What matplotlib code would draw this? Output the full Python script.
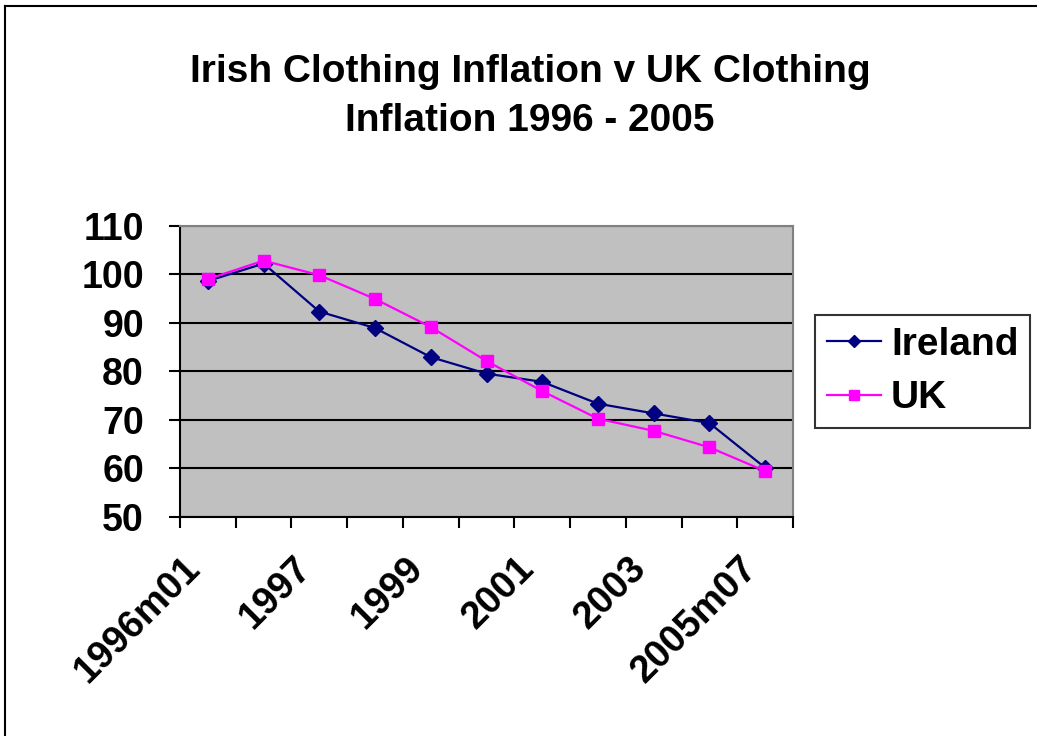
import matplotlib.pyplot as plt
from matplotlib.lines import Line2D

# categories (every other one labelled in the original Excel chart)
periods = ["1996m01", "1996m07", "1997", "1998", "1999", "2000",
           "2001", "2002", "2003", "2004", "2005m07"]
ireland = [98.6, 102.2, 92.3, 88.9, 82.9, 79.5, 77.8, 73.3, 71.3, 69.3, 60.1]
uk = [99.0, 102.8, 99.8, 94.9, 89.1, 82.1, 75.9, 70.2, 67.7, 64.3, 59.4]
shown_labels = ["1996m01", "1997", "1999", "2001", "2003", "2005m07"]

plt.rcParams["font.family"] = ["Liberation Sans", "DejaVu Sans"]
plt.rcParams["font.weight"] = "bold"

fig = plt.figure(figsize=(10.37, 7.36), dpi=100)
ax = fig.add_axes([0.1736, 0.298, 0.5911, 0.3953])
ax.set_facecolor("#C0C0C0")

x = list(range(len(periods)))
ax.plot(x, ireland, color="#000080", lw=1.6, marker="D", ms=8,
        label="Ireland", zorder=3)
ax.plot(x, uk, color="#FF00FF", lw=1.6, marker="s", ms=8.5,
        label="UK", zorder=4)

ax.set_xlim(-0.5, len(periods) - 0.5)
ax.set_ylim(50, 110)
ax.set_yticks(range(50, 111, 10))
ax.yaxis.grid(True, color="black", lw=1.5)
ax.set_axisbelow(True)

# tick marks between categories; Excel anchors the rotated labels a bit
# left of the category centre, so the (invisible) label ticks sit there too
ax.set_xticks([i - 0.5 for i in range(len(periods) + 1)])
ax.set_xticklabels([])
ax.set_xticks([i - 0.47 for i in x[::2]], minor=True)
ax.set_xticklabels(shown_labels, minor=True, rotation=45, ha="right",
                   rotation_mode="anchor", fontsize=27.5, fontweight="bold")
ax.tick_params(axis="x", which="major", length=8, width=1.5, direction="out")
ax.tick_params(axis="x", which="minor", length=0, pad=24)
ax.tick_params(axis="y", length=8, width=1.5, labelsize=27, pad=18)
for lbl in ax.get_yticklabels():
    lbl.set_fontweight("bold")

for side in ("left", "bottom"):
    ax.spines[side].set_color("black")
    ax.spines[side].set_linewidth(1.5)
for side in ("top", "right"):
    ax.spines[side].set_color("#808080")
    ax.spines[side].set_linewidth(1.5)

fig.text(0.511, 0.869, "Irish Clothing Inflation v UK Clothing\nInflation 1996 - 2005",
         ha="center", va="center", fontsize=28, fontweight="bold",
         linespacing=1.45)

leg = ax.legend(loc="center left", bbox_to_anchor=(0.786, 0.4952),
                bbox_transform=fig.transFigure, fontsize=28, frameon=True,
                fancybox=False, edgecolor="black", handlelength=1.4,
                handletextpad=0.25, borderpad=0.3, labelspacing=0.45,
                borderaxespad=0, markerscale=0.8)
leg.get_frame().set_linewidth(1.5)

# outer chart border (right/bottom edges fall outside the image)
fig.add_artist(Line2D([5 / 1037, 5 / 1037], [0, 1 - 6 / 736],
                      color="black", lw=1.5))
fig.add_artist(Line2D([5 / 1037, 1], [1 - 6 / 736, 1 - 6 / 736],
                      color="black", lw=1.5))

fig.savefig("out.png", dpi=100)
